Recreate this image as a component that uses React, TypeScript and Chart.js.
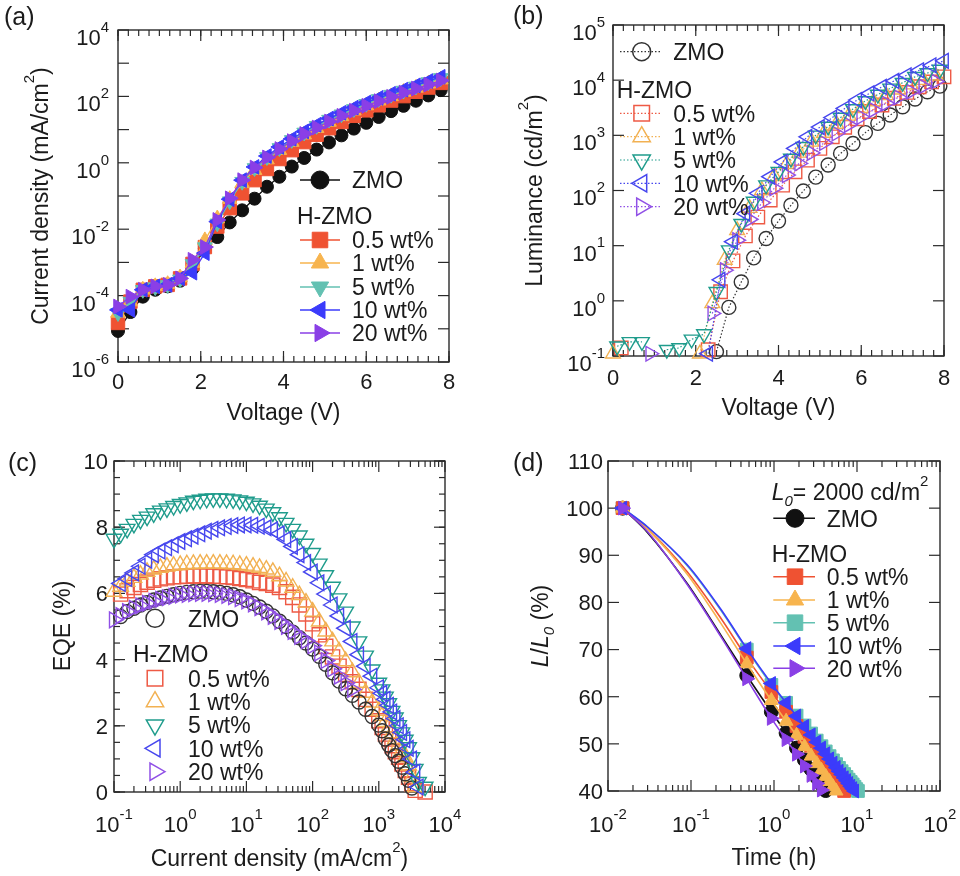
import React, { useEffect, useRef } from 'react';
import { Chart, registerables } from 'chart.js';

Chart.register(...registerables);

const FONT = '"Liberation Sans", Arial, Helvetica, sans-serif';
const INK = '#1b1b1b';

/* ---------------- shared labels ---------------- */
const seriesLabels = ['ZMO', '0.5 wt%', '1 wt%', '5 wt%', '10 wt%', '20 wt%'];
const groupLabel = 'H-ZMO';

/* ---------------- (a) current density vs voltage ---------------- */
const jvVoltage = [0, 0.3, 0.6, 0.9, 1.2, 1.5, 1.8, 2.1, 2.4, 2.7, 3.0, 3.3, 3.6, 3.9, 4.2, 4.5, 4.8, 5.1, 5.4, 5.7, 6.0, 6.3, 6.6, 6.9, 7.2, 7.5, 7.8];
const jvZMO = [8.6e-6, 3.2e-5, 9.3e-5, 1.5e-4, 1.9e-4, 2.8e-4, 6.5e-4, 2.6e-3, 5.8e-3, 0.016, 0.037, 0.083, 0.19, 0.38, 0.77, 1.4, 2.5, 4.1, 6.7, 10.7, 16, 24, 36, 52, 74, 107, 155];
const jv05 = [1.5e-5, 6.6e-5, 1.5e-4, 1.9e-4, 2.1e-4, 3.3e-4, 9e-4, 2.9e-3, 0.012, 0.043, 0.12, 0.30, 0.65, 1.3, 2.4, 4.2, 7, 11, 17, 26, 38, 54, 75, 102, 138, 185, 255];
const jv1 = [3e-5, 6.6e-5, 1.5e-4, 1.9e-4, 2.2e-4, 3.5e-4, 9.5e-4, 4.6e-3, 0.021, 0.08, 0.24, 0.6, 1.25, 2.4, 4.2, 7, 11, 17, 25, 37, 53, 74, 100, 135, 180, 240, 320];
const jv5 = [3e-5, 6.6e-5, 1.5e-4, 1.8e-4, 2.1e-4, 3.1e-4, 9e-4, 2.9e-3, 0.015, 0.07, 0.27, 0.7, 1.5, 2.8, 4.9, 8.2, 13, 20, 29, 42, 60, 84, 113, 150, 200, 270, 360];
const jv10 = [3.7e-5, 3.7e-5, 1.5e-4, 1.9e-4, 2.1e-4, 3.3e-4, 4.9e-4, 1.9e-3, 0.017, 0.08, 0.3, 0.75, 1.6, 3.0, 5.3, 8.8, 14, 21.5, 32, 46, 65, 90, 120, 160, 215, 290, 390];
const jv20 = [4.7e-5, 9.3e-5, 1.5e-4, 1.9e-4, 2.1e-4, 3.3e-4, 1.2e-3, 2.9e-3, 0.019, 0.085, 0.3, 0.72, 1.45, 2.6, 4.5, 7.4, 11.5, 17.5, 26, 37, 52, 72, 97, 130, 172, 228, 300];
const jvVoltTicks = [0, 2, 4, 6, 8];
const jvCurrentTicks = [1e-6, 1e-4, 1e-2, 1, 1e2, 1e4];

/* ---------------- (b) luminance vs voltage ---------------- */
const lvVoltGridA = [0.1, 0.4, 0.7, 1.0, 1.3, 1.6, 1.9, 2.2, 2.5, 2.8, 3.1, 3.4, 3.7, 4.0, 4.3, 4.6, 4.9, 5.2, 5.5, 5.8, 6.1, 6.4, 6.7, 7.0, 7.3, 7.6, 7.9];
const lvVoltGridB = [0.2, 0.5, 0.8, 1.1, 1.4, 1.7, 2.0, 2.3, 2.6, 2.9, 3.2, 3.5, 3.8, 4.1, 4.4, 4.7, 5.0, 5.3, 5.6, 5.9, 6.2, 6.5, 6.8, 7.1, 7.4, 7.7, 8.0];
const lvVoltGridC = [0, 0.3, 0.6, 0.9, 1.2, 1.5, 1.8, 2.1, 2.4, 2.7, 3.0, 3.3, 3.6, 3.9, 4.2, 4.5, 4.8, 5.1, 5.4, 5.7, 6.0, 6.3, 6.6, 6.9, 7.2, 7.5, 7.8];
const lvZMO = [null, null, null, null, null, null, null, null, 0.12, 0.76, 2.2, 6.0, 13.5, 28, 54, 98, 175, 290, 470, 710, 1120, 1650, 2330, 3300, 4550, 6150, 7800];
const lv05 = [0.14, null, null, null, null, null, null, 0.13, 1.46, 5.3, 15, 33, 67, 125, 218, 355, 580, 940, 1400, 2000, 2700, 3550, 4700, 6000, 7600, 9300, 11500];
const lv1 = [0.11, null, null, null, null, null, null, 0.11, 0.9, 5.5, 19, 48, 100, 180, 300, 480, 760, 1100, 1600, 2250, 3100, 4100, 5300, 6700, 8300, 10000, 12000];
const lv5 = [0.15, 0.18, 0.18, null, 0.13, 0.14, 0.2, 0.25, 1.46, 8.3, 25, 63, 125, 220, 380, 620, 1000, 1450, 2100, 3000, 4200, 5500, 7100, 9000, 11500, 13500, 15600];
const lv10 = [null, null, null, null, null, null, null, 0.11, 2.4, 11.8, 38, 89, 178, 330, 580, 940, 1410, 2100, 3070, 4350, 5750, 7550, 9700, 12300, 15100, 18600, 22400];
const lv20 = [null, null, null, 0.11, null, null, null, null, 0.59, 3.6, 12.6, 30, 60, 110, 190, 310, 480, 730, 1080, 1550, 2150, 2900, 3800, 4900, 6200, 7700, 9500];
const lvLumTicks = [1e-1, 1, 10, 100, 1e3, 1e4, 1e5];

/* ---------------- (c) EQE vs current density ---------------- */
const eqeCurrent = [0.1, 0.126, 0.158, 0.2, 0.251, 0.316, 0.398, 0.501, 0.631, 0.794, 1, 1.26, 1.58, 2, 2.51, 3.16, 3.98, 5.01, 6.31, 7.94, 10, 12.6, 15.8, 20, 25.1, 31.6, 39.8, 50.1, 63.1, 79.4, 100, 126, 158, 200, 251, 316, 398, 501, 631, 794, 1000, 1122, 1259, 1413, 1585, 1778, 1995, 2239, 2512, 2818, 3162, 3548, 3981, 5012];
const eqeZMO = [null, 5.3, 5.45, 5.55, 5.65, 5.72, 5.8, 5.86, 5.91, 5.96, 6.0, 6.03, 6.05, 6.06, 6.06, 6.05, 6.03, 6.0, 5.96, 5.9, 5.8, 5.7, 5.59, 5.46, 5.32, 5.16, 5.0, 4.83, 4.66, 4.5, 4.32, 4.1, 3.86, 3.6, 3.35, 3.12, 2.92, 2.72, 2.5, 2.28, 2.02, 1.85, 1.6, 1.42, 1.25, 1.1, 0.93, 0.75, 0.55, 0.35, 0.12, null, null, null];
const eqe05 = [null, 5.98, 6.08, 6.18, 6.27, 6.34, 6.4, 6.44, 6.47, 6.5, 6.51, 6.52, 6.53, 6.53, 6.53, 6.52, 6.51, 6.5, 6.48, 6.45, 6.42, 6.38, 6.33, 6.3, 6.25, 6.18, 6.05, 5.88, 5.65, 5.38, 5.08, 4.75, 4.4, 4.08, 3.8, 3.55, 3.33, 3.1, 2.8, 2.5, 2.15, 1.95, 1.75, 1.6, 1.4, 1.22, 1.05, 0.85, 0.65, 0.45, 0.25, 0.05, null, 0.0];
const eqe1 = [6.05, 6.2, 6.35, 6.47, 6.57, 6.65, 6.72, 6.77, 6.81, 6.84, 6.86, 6.88, 6.89, 6.9, 6.9, 6.9, 6.9, 6.89, 6.88, 6.86, 6.84, 6.81, 6.77, 6.72, 6.65, 6.52, 6.36, 6.17, 5.95, 5.72, 5.45, 5.15, 4.85, 4.55, 4.25, 3.95, 3.62, 3.3, 3.0, 2.7, 2.45, 2.3, 2.12, 1.95, 1.78, 1.6, 1.42, 1.25, 1.05, 0.8, 0.45, 0.15, null, null];
const eqe5 = [7.65, 7.8, 7.95, 8.1, 8.22, 8.32, 8.42, 8.5, 8.57, 8.64, 8.7, 8.75, 8.8, 8.83, 8.86, 8.87, 8.87, 8.86, 8.84, 8.81, 8.77, 8.72, 8.65, 8.56, 8.45, 8.3, 8.13, 7.95, 7.75, 7.5, 7.22, 6.9, 6.55, 6.2, 5.85, 5.45, 5.0, 4.55, 4.12, 3.7, 3.3, 3.1, 2.88, 2.68, 2.45, 2.25, 2.02, 1.8, 1.58, 1.35, 1.05, 0.7, 0.3, 0.16];
const eqe10 = [null, 6.3, 6.45, 6.62, 6.82, 7.0, 7.17, 7.28, 7.38, 7.47, 7.57, 7.65, 7.73, 7.8, 7.88, 7.94, 7.98, 8.02, 8.05, 8.07, 8.07, 8.06, 8.03, 7.98, 7.92, 7.8, 7.63, 7.42, 7.17, 6.93, 6.65, 6.32, 5.98, 5.65, 5.32, 4.95, 4.55, 4.15, 3.8, 3.5, 3.15, 2.98, 2.8, 2.62, 2.42, 2.22, 2.0, 1.8, 1.58, 1.32, 1.0, 0.6, 0.15, null];
const eqe20 = [5.2, 5.33, 5.45, 5.55, 5.63, 5.7, 5.76, 5.82, 5.87, 5.91, 5.95, 5.97, 5.99, 6.0, 6.0, 5.99, 5.97, 5.94, 5.9, 5.84, 5.77, 5.68, 5.57, 5.44, 5.3, 5.15, 5.0, 4.85, 4.7, 4.57, 4.42, 4.2, 3.97, 3.72, 3.5, 3.3, 3.1];
const eqeCurrentTicks = [1e-1, 1, 10, 100, 1e3, 1e4];
const eqeTicks = [0, 2, 4, 6, 8, 10];

/* ---------------- (d) lifetime ---------------- */
const lifeTime = [0.015, 0.03, 0.09, 0.23, 0.47, 0.93, 1.4, 1.87, 2.33, 2.8, 3.27, 3.73, 4.2, 4.67, 5.13, 5.6, 6.07, 6.53, 7.0, 7.47, 7.93, 8.4, 8.87, 9.33, 9.8, 10.27];
const lifeLineOnly = [0.03, 0.09, 0.23];
const lifeZMO = [100, 94.8, 84.0, 73.0, 64.5, 56.8, 52.3, 49.1, 46.6, 44.6, 42.9, 41.4, 40.1];
const life05 = [100, 95.6, 86.5, 76.6, 68.3, 61.0, 56.8, 53.8, 51.5, 49.6, 48.0, 46.6, 45.3, 44.2, 43.3, 42.4, 41.5, 40.8, 40.0];
const life1 = [100, 95.5, 86.0, 75.5, 67.0, 59.2, 54.8, 51.8, 49.4, 47.4, 45.8, 44.4, 43.1, 42.0, 40.9, 40.0];
const life5 = [100, 96.0, 87.8, 78.3, 70.0, 62.5, 58.7, 56.0, 53.9, 52.2, 50.7, 49.5, 48.4, 47.4, 46.5, 45.7, 44.9, 44.2, 43.6, 43.0, 42.4, 41.9, 41.4, 40.9, 40.4, 40.0];
const life10 = [100, 96.0, 88.0, 78.5, 70.2, 62.8, 58.7, 55.9, 53.7, 51.9, 50.4, 49.1, 47.9, 46.8, 45.9, 45.0, 44.2, 43.5, 42.8, 42.2, 41.6, 41.0, 40.5, 40.0];
const life20 = [100, 95.0, 83.8, 72.7, 63.8, 55.4, 50.9, 47.8, 45.3, 43.3, 41.6, 40.2];
const lifeTimeTicks = [1e-2, 1e-1, 1, 10, 100];
const lifeTicks = [40, 50, 60, 70, 80, 90, 100, 110];
const lifeL0 = 2000;

/* ---------------- styling helpers ---------------- */
type Seg = { t: string; sup?: boolean; sub?: boolean; it?: boolean };
type Marker = { style: 'circle' | 'rect' | 'triangle'; rot: number };
const MK: Record<string, Marker> = {
  circle: { style: 'circle', rot: 0 },
  square: { style: 'rect', rot: 0 },
  up: { style: 'triangle', rot: 0 },
  down: { style: 'triangle', rot: 180 },
  left: { style: 'triangle', rot: 270 },
  right: { style: 'triangle', rot: 90 },
};

const COL_A = ['#111111', '#ef5232', '#f7b44e', '#63c1b2', '#3b3bfb', '#8a3fe6'];
const COL_B = ['#333333', '#ee5a45', '#f2b152', '#1f9c8c', '#4747ee', '#9050e6'];

function drawRich(ctx: CanvasRenderingContext2D, segs: Seg[], x: number, y: number, size: number, align: 'left' | 'center' | 'right', rotate = false) {
  ctx.save();
  ctx.translate(x, y);
  if (rotate) ctx.rotate(-Math.PI / 2);
  const fonts = segs.map((s) => `${s.it ? 'italic ' : ''}${s.sup || s.sub ? Math.round(size * 0.66) : size}px ${FONT}`);
  const widths = segs.map((s, i) => {
    ctx.font = fonts[i];
    return ctx.measureText(s.t).width;
  });
  const total = widths.reduce((a, b) => a + b, 0);
  let cx = align === 'left' ? 0 : align === 'center' ? -total / 2 : -total;
  ctx.fillStyle = INK;
  ctx.textAlign = 'left';
  ctx.textBaseline = 'alphabetic';
  const base = size * 0.36;
  segs.forEach((s, i) => {
    ctx.font = fonts[i];
    let dy = base;
    if (s.sup) dy -= size * 0.6;
    if (s.sub) dy += size * 0.24;
    ctx.fillText(s.t, cx, dy);
    cx += widths[i];
  });
  ctx.restore();
}

function drawMarker(ctx: CanvasRenderingContext2D, m: Marker, x: number, y: number, r: number, color: string, filled: boolean, lw: number) {
  ctx.save();
  ctx.beginPath();
  if (m.style === 'circle') ctx.arc(x, y, r, 0, Math.PI * 2);
  else if (m.style === 'rect') {
    const s = r * Math.SQRT1_2;
    ctx.rect(x - s, y - s, 2 * s, 2 * s);
  } else {
    let a = (m.rot * Math.PI) / 180;
    ctx.moveTo(x + Math.sin(a) * r, y - Math.cos(a) * r);
    a += (2 * Math.PI) / 3;
    ctx.lineTo(x + Math.sin(a) * r, y - Math.cos(a) * r);
    a += (2 * Math.PI) / 3;
    ctx.lineTo(x + Math.sin(a) * r, y - Math.cos(a) * r);
    ctx.closePath();
  }
  if (filled) {
    ctx.fillStyle = color;
    ctx.fill();
  }
  ctx.strokeStyle = color;
  ctx.lineWidth = lw;
  ctx.stroke();
  ctx.restore();
}

const linSteps = (min: number, max: number, step: number) => {
  const out: number[] = [];
  for (let v = min; v <= max + 1e-9; v += step) out.push(+v.toFixed(6));
  return out;
};
const decadeList = (a: number, b: number) => {
  const out: number[] = [];
  for (let e = a; e <= b; e++) out.push(Math.pow(10, e));
  return out;
};
const logMinorList = (a: number, b: number) => {
  const out: number[] = [];
  for (let e = a; e < b; e++) for (let m = 2; m <= 9; m++) out.push(m * Math.pow(10, e));
  return out;
};

type AxisDeco = { majors: number[]; minors: number[]; labels: number[]; pow: boolean; off: number; shift?: number };
type LegendDeco = {
  lineFrom?: number; lineTo?: number; dash?: number[]; lineW?: number;
  markerX: number; textX: number; zmoY: number; headerX: number; headerY: number; rowsY: number[];
  colors: string[]; markers: Marker[]; radii: number[]; filled: boolean; markerLW: number;
};
type PanelDeco = {
  letter: string; letterX: number; letterY: number;
  x: AxisDeco; y: AxisDeco;
  xTitle: Seg[]; xTitleAt: [number, number];
  yTitle: Seg[]; yTitleAt: [number, number];
  legend: LegendDeco;
  extra?: { segs: Seg[]; x: number; y: number }[];
};

const TICK_FONT = 22;
const TEXT_FONT = 23;
const LETTER_FONT = 25;

function labelSegs(v: number, pow: boolean): Seg[] {
  if (!pow) return [{ t: String(v) }];
  const e = Math.round(Math.log10(v));
  return [{ t: '10' }, { t: String(e), sup: true }];
}

function makeDecoPlugin(d: PanelDeco) {
  return {
    id: 'panelDeco',
    beforeDatasetsDraw(chart: any) {
      const { ctx, chartArea: a } = chart;
      const xs = chart.scales.x;
      const ys = chart.scales.y;
      ctx.save();
      ctx.strokeStyle = '#2a2a2a';
      ctx.lineWidth = 1.4;
      ctx.strokeRect(a.left, a.top, a.right - a.left, a.bottom - a.top);
      ctx.lineWidth = 1.2;
      const seg = (x1: number, y1: number, x2: number, y2: number) => {
        ctx.beginPath();
        ctx.moveTo(x1, y1);
        ctx.lineTo(x2, y2);
        ctx.stroke();
      };
      const MAJ = 11;
      const MIN = 6;
      d.x.majors.forEach((v) => {
        const p = xs.getPixelForValue(v);
        seg(p, a.bottom, p, a.bottom - MAJ);
        seg(p, a.top, p, a.top + MAJ);
      });
      d.x.minors.forEach((v) => {
        const p = xs.getPixelForValue(v);
        seg(p, a.bottom, p, a.bottom - MIN);
        seg(p, a.top, p, a.top + MIN);
      });
      d.y.majors.forEach((v) => {
        const p = ys.getPixelForValue(v);
        seg(a.left, p, a.left + MAJ, p);
        seg(a.right, p, a.right - MAJ, p);
      });
      d.y.minors.forEach((v) => {
        const p = ys.getPixelForValue(v);
        seg(a.left, p, a.left + MIN, p);
        seg(a.right, p, a.right - MIN, p);
      });
      ctx.restore();

      d.x.labels.forEach((v) => {
        drawRich(ctx, labelSegs(v, d.x.pow), xs.getPixelForValue(v), a.bottom + d.x.off, TICK_FONT, 'center');
      });
      d.y.labels.forEach((v) => {
        drawRich(ctx, labelSegs(v, d.y.pow), a.left - d.y.off, ys.getPixelForValue(v) + (d.y.shift || 0), TICK_FONT, 'right');
      });
      drawRich(ctx, d.xTitle, d.xTitleAt[0], d.xTitleAt[1], TEXT_FONT, 'center');
      drawRich(ctx, d.yTitle, d.yTitleAt[0], d.yTitleAt[1], TEXT_FONT, 'center', true);
      drawRich(ctx, [{ t: d.letter }], d.letterX, d.letterY, LETTER_FONT, 'left');
    },
    afterDatasetsDraw(chart: any) {
      const { ctx } = chart;
      const L = d.legend;
      const row = (i: number, y: number) => {
        if (L.lineFrom !== undefined && L.lineTo !== undefined) {
          ctx.save();
          ctx.strokeStyle = L.colors[i];
          ctx.lineWidth = L.lineW || 1.3;
          ctx.setLineDash(L.dash || []);
          ctx.beginPath();
          ctx.moveTo(L.lineFrom, y);
          ctx.lineTo(L.lineTo, y);
          ctx.stroke();
          ctx.restore();
        }
        drawMarker(ctx, L.markers[i], L.markerX, y, L.radii[i], L.colors[i], L.filled, L.markerLW);
        drawRich(ctx, [{ t: seriesLabels[i] }], L.textX, y, TEXT_FONT, 'left');
      };
      row(0, L.zmoY);
      drawRich(ctx, [{ t: groupLabel }], L.headerX, L.headerY, TEXT_FONT, 'left');
      L.rowsY.forEach((y, k) => row(k + 1, y));
      (d.extra || []).forEach((e) => drawRich(ctx, e.segs, e.x, e.y, TEXT_FONT, 'left'));
    },
  };
}

function series(xs: number[], ys: (number | null)[], color: string, m: Marker, r: any, filled: boolean, opts: any = {}) {
  return {
    data: ys.map((y, i) => ({ x: xs[i], y })),
    borderColor: color,
    backgroundColor: color,
    borderWidth: 1.3,
    pointStyle: m.style,
    pointRotation: m.rot,
    pointRadius: r,
    pointHoverRadius: r,
    pointBackgroundColor: filled ? color : 'rgba(0,0,0,0)',
    pointBorderColor: color,
    pointBorderWidth: filled ? 1 : 1.4,
    clip: false,
    spanGaps: false,
    tension: 0,
    ...opts,
  };
}

function baseConfig(datasets: any[], pad: any, xScale: any, yScale: any, deco: PanelDeco) {
  return {
    type: 'line' as const,
    data: { datasets },
    options: {
      responsive: false,
      animation: false as const,
      devicePixelRatio: 1,
      events: [] as any[],
      layout: { padding: pad },
      plugins: { legend: { display: false }, tooltip: { enabled: false }, title: { display: false } },
      scales: { x: { ...xScale, display: false }, y: { ...yScale, display: false } },
    },
    plugins: [makeDecoPlugin(deco)],
  };
}

/* ---------------- panel configs ---------------- */
const markerSet5 = [MK.circle, MK.square, MK.up, MK.down, MK.left, MK.right];
const markerSetD = [MK.circle, MK.square, MK.up, MK.square, MK.left, MK.right];

function buildA() {
  const c = COL_A;
  const r = [6.5, 9.5, 8.5, 8.5, 8.5, 8.5];
  const ys = [jvZMO, jv05, jv1, jv5, jv10, jv20];
  const order = [5, 4, 3, 2, 1, 0];
  const datasets = order.map((i) => series(jvVoltage, ys[i], c[i], markerSet5[i], r[i], true));
  const deco: PanelDeco = {
    letter: '(a)', letterX: 4, letterY: 16,
    x: { majors: jvVoltTicks, minors: linSteps(0, 8, 0.25), labels: jvVoltTicks, pow: false, off: 19 },
    y: { majors: decadeList(-6, 4), minors: [], labels: jvCurrentTicks, pow: true, off: 9, shift: 7 },
    xTitle: [{ t: 'Voltage (V)' }], xTitleAt: [283.5, 412],
    yTitle: [{ t: 'Current density (mA/cm' }, { t: '2', sup: true }, { t: ')' }], yTitleAt: [40, 196],
    legend: {
      lineFrom: 300, lineTo: 340, lineW: 1.4, markerX: 320, textX: 352, zmoY: 180, headerX: 297, headerY: 216,
      rowsY: [240, 263, 287, 310, 333], colors: c, markers: markerSet5, radii: [9, 11, 10, 10, 10, 10], filled: true, markerLW: 1,
    },
  };
  return baseConfig(datasets, { left: 118, top: 30, right: 31, bottom: 68 }, { type: 'linear', min: 0, max: 8 }, { type: 'logarithmic', min: 1e-6, max: 1e4 }, deco);
}

function buildB() {
  const c = COL_B;
  const r = [7, 9.5, 8.5, 8.5, 8.5, 8.5];
  const xs = [lvVoltGridA, lvVoltGridB, lvVoltGridC, lvVoltGridA, lvVoltGridB, lvVoltGridC];
  const ys = [lvZMO, lv05, lv1, lv5, lv10, lv20];
  const order = [4, 3, 5, 2, 1, 0];
  const datasets = order.map((i) => series(xs[i], ys[i], c[i], markerSet5[i], r[i], false, { borderWidth: 1.2, borderDash: [1.5, 2] }));
  const deco: PanelDeco = {
    letter: '(b)', letterX: 33, letterY: 15,
    x: { majors: jvVoltTicks, minors: linSteps(0, 8, 0.25), labels: jvVoltTicks, pow: false, off: 21 },
    y: { majors: decadeList(-1, 5), minors: [], labels: lvLumTicks, pow: true, off: 8, shift: 7 },
    xTitle: [{ t: 'Voltage (V)' }], xTitleAt: [298.5, 406.7],
    yTitle: [{ t: 'Luminance (cd/m' }, { t: '2', sup: true }, { t: ')' }], yTitleAt: [54, 190.5],
    legend: {
      lineFrom: 140, lineTo: 182, lineW: 1.2, dash: [1.5, 2], markerX: 161.7, textX: 193.3, zmoY: 51.7, headerX: 136.7, headerY: 90,
      rowsY: [113.3, 136.7, 160, 183.3, 206.7], colors: c, markers: markerSet5, radii: [9, 11, 10, 10, 10, 10], filled: false, markerLW: 1.5,
    },
  };
  return baseConfig(datasets, { left: 133, top: 25, right: 16, bottom: 74 }, { type: 'linear', min: 0, max: 8 }, { type: 'logarithmic', min: 0.1, max: 1e5 }, deco);
}

function buildC() {
  const c = COL_B;
  const r = [7, 10, 9, 9, 9, 9];
  const ys = [eqeZMO, eqe05, eqe1, eqe5, eqe10, eqe20];
  const order = [4, 3, 5, 0, 2, 1];
  const datasets = order.map((i) => series(eqeCurrent, ys[i], c[i], markerSet5[i], r[i], false, { showLine: false }));
  const deco: PanelDeco = {
    letter: '(c)', letterX: 8, letterY: 32,
    x: { majors: decadeList(-1, 4), minors: logMinorList(-1, 4), labels: eqeCurrentTicks, pow: true, off: 32 },
    y: { majors: eqeTicks, minors: linSteps(0, 10, 0.5), labels: eqeTicks, pow: false, off: 6 },
    xTitle: [{ t: 'Current density (mA/cm' }, { t: '2', sup: true }, { t: ')' }], xTitleAt: [279.5, 428],
    yTitle: [{ t: 'EQE (%)' }], yTitleAt: [62, 196],
    legend: {
      markerX: 155, textX: 188, zmoY: 188.3, headerX: 133, headerY: 224,
      rowsY: [248.3, 271.7, 295, 318.3, 341.7], colors: c, markers: markerSet5, radii: [9, 11, 10, 10, 10, 10], filled: false, markerLW: 1.5,
    },
  };
  return baseConfig(datasets, { left: 114, top: 31, right: 35, bottom: 84 }, { type: 'logarithmic', min: 0.1, max: 1e4 }, { type: 'linear', min: 0, max: 10 }, deco);
}

function buildD() {
  const c = COL_A;
  const rad = (base: number) => (ctx: any) => (ctx.raw && lifeLineOnly.includes(ctx.raw.x) ? 0 : base);
  const r = [rad(7), rad(9), rad(8), rad(9), rad(8), rad(8)];
  const ys = [lifeZMO, life05, life1, life5, life10, life20];
  const order = [5, 4, 2, 1, 3, 0];
  const datasets = order.map((i) => series(lifeTime, ys[i], c[i], markerSetD[i], r[i], true, { borderWidth: 1.6, cubicInterpolationMode: 'monotone' }));
  const deco: PanelDeco = {
    letter: '(d)', letterX: 33, letterY: 32,
    x: { majors: decadeList(-2, 2), minors: logMinorList(-2, 2), labels: lifeTimeTicks, pow: true, off: 33 },
    y: { majors: lifeTicks, minors: [], labels: lifeTicks, pow: false, off: 5 },
    xTitle: [{ t: 'Time (h)' }], xTitleAt: [294, 426.7],
    yTitle: [{ t: 'L', it: true }, { t: '/' }, { t: 'L', it: true }, { t: '0', it: true, sub: true }, { t: ' (%)' }], yTitleAt: [60, 196],
    legend: {
      lineFrom: 293.3, lineTo: 335, lineW: 1.4, markerX: 315, textX: 346.7, zmoY: 88.3, headerX: 291.7, headerY: 123.3,
      rowsY: [146.7, 170, 192.7, 216, 238.3], colors: c, markers: markerSetD, radii: [9, 11, 10, 11, 10, 10], filled: true, markerLW: 1,
    },
    extra: [{ segs: [{ t: 'L', it: true }, { t: '0', it: true, sub: true }, { t: `= ${lifeL0} cd/m` }, { t: '2', sup: true }], x: 291.7, y: 61.7 }],
  };
  return baseConfig(datasets, { left: 128, top: 31, right: 20, bottom: 85 }, { type: 'logarithmic', min: 1e-2, max: 1e2 }, { type: 'linear', min: 40, max: 110 }, deco);
}

function Panel({ left, top, width, height, build }: { left: number; top: number; width: number; height: number; build: () => any }) {
  const ref = useRef<HTMLCanvasElement>(null);
  useEffect(() => {
    const chart = new Chart(ref.current as HTMLCanvasElement, build());
    return () => chart.destroy();
  }, [build]);
  return <canvas ref={ref} width={width} height={height} style={{ position: 'absolute', left, top, width, height }} />;
}

export default function App() {
  return (
    <div style={{ position: 'absolute', left: 0, top: 0, width: 960, height: 876, background: '#ffffff', overflow: 'hidden' }}>
      <Panel left={0} top={0} width={480} height={430} build={buildA} />
      <Panel left={480} top={0} width={480} height={430} build={buildB} />
      <Panel left={0} top={430} width={480} height={446} build={buildC} />
      <Panel left={480} top={430} width={480} height={446} build={buildD} />
    </div>
  );
}
